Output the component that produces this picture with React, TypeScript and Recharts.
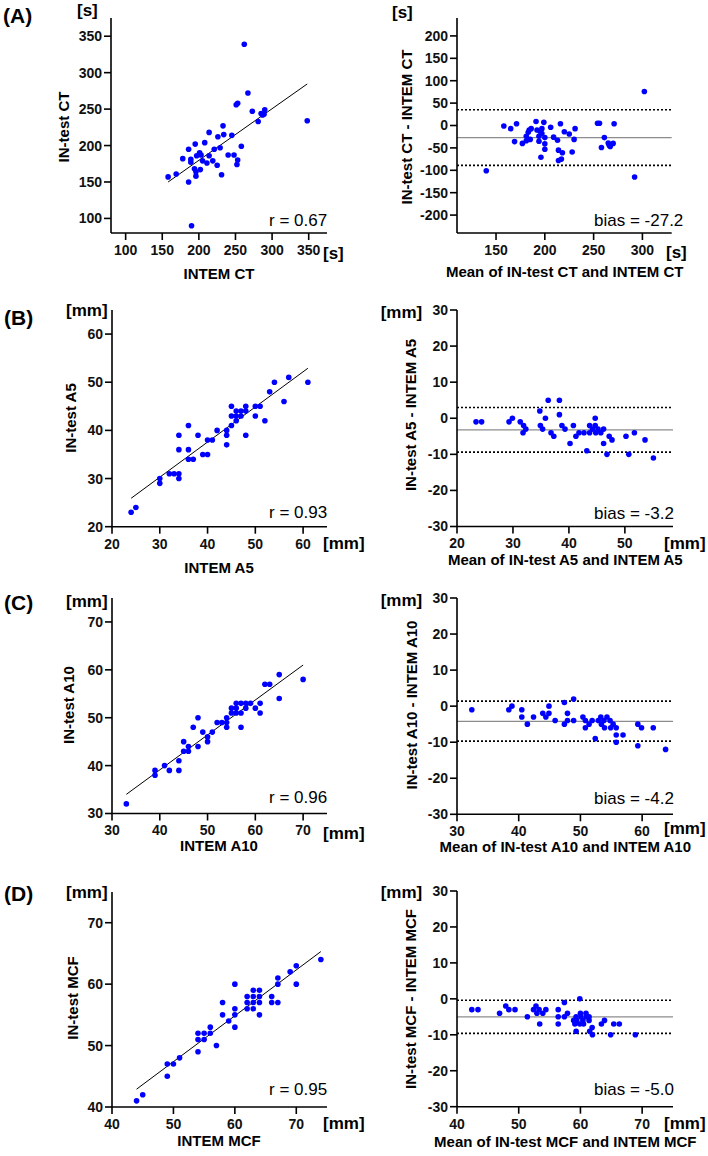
import React from 'react';
import { ScatterChart, Scatter, XAxis, YAxis, ReferenceLine } from 'recharts';

// (A) CT [s]
const ctIntem = [158, 169, 178, 186, 186, 189, 189, 190, 195, 194, 196, 196, 197, 201, 203, 205, 202, 208, 211, 214, 214, 219, 221, 225, 226, 229, 231, 233, 234, 245, 240, 248, 252, 253, 251, 253, 258, 262, 267, 273, 281, 285, 287, 290, 289, 348];
const ctIn = [157, 161, 182, 195, 150, 181, 177, 90, 202, 168, 164, 158, 186, 190, 187, 179, 167, 204, 176, 218, 186, 179, 195, 173, 212, 197, 160, 227, 215, 214, 187, 187, 174, 180, 256, 258, 199, 339, 272, 247, 233, 244, 242, 249, 243, 234];
const ctMean = [140, 158, 165, 169, 171, 177, 181, 181, 183, 184, 186, 185, 191, 192, 194, 194, 195, 196, 197, 197, 199, 200, 200, 200, 206, 209, 213, 214, 214, 216, 217, 218, 220, 225, 228, 230, 231, 254, 256, 258, 261, 265, 266, 267, 270, 271, 292, 302];
const ctDiff = [-101, -1, -7, -36, 4, -40, -34, -24, -15, -10, -7, -31, 9, -10, -24, -35, -13, -71, -18, -7, 7, -27, -41, -53, -4, -26, -33, -55, -78, 4, -75, -61, -14, -19, -59, -31, -7, 5, 5, -49, -27, -39, -44, -47, -40, 4, -115, 76];
const ctFit = [[158, 150], [348, 284.5]];
const ctLimits = [-27.2, 35, -89];

// (B) A5 [mm]
const a5Intem = [24, 25, 30, 30, 32, 33, 34, 34, 34, 34, 36, 36, 36, 37, 38, 39, 40, 40, 41, 42, 44, 44, 44, 45, 45, 45, 46, 46, 46, 47, 47, 48, 48, 48, 50, 50, 51, 52, 53, 54, 56, 57, 61];
const a5In = [23, 24, 30, 29, 31, 31, 31, 30, 36, 39, 34, 36, 41, 34, 39, 35, 35, 38, 38, 40, 40, 39, 37, 45, 43, 41, 42, 44, 43, 44, 43, 45, 44, 39, 45, 43, 45, 42, 48, 50, 46, 51, 50];
const a5Mean = [23.4, 24.4, 29.3, 29.9, 31.3, 31.9, 31.8, 32.3, 34.8, 34.9, 35.3, 35.8, 36.3, 36.8, 37.3, 38.3, 38.3, 38.75, 39.3, 40.2, 40.8, 41.25, 41.8, 42.7, 43.2, 43.7, 43.7, 44.2, 44.7, 44.7, 44.8, 45.2, 45.7, 46.2, 46.2, 46.8, 47.2, 47.7, 50.2, 50.7, 51.7, 53.6, 55.1];
const a5Diff = [-1, -1, -1, 0, -1, -2, -4, -3, 2, -2, -3, 0, 5, -4, -5, 5, 1, -2, -3, -7, -2, -5, -4, -4, -9, -2, -4, -3, 0, -2, -4, -3, -4, -3, -7, -10, -5, -6, -5, -10, -4, -6, -11];
const a5Fit = [[24, 25.9], [61, 52.9]];
const a5Limits = [-3.2, 3.0, -9.4];

// (C) A10 [mm]
const a10Intem = [33, 39, 39, 41, 42, 44, 44, 45, 45, 46, 46, 47, 48, 48, 49, 50, 50, 51, 52, 53, 54, 54, 54, 55, 55, 56, 56, 56, 57, 57, 57, 58, 58, 59, 60, 61, 61, 62, 63, 65, 65, 70];
const a10In = [32, 39, 38, 40, 39, 41, 39, 45, 43, 44, 43, 48, 50, 44, 47, 46, 45, 47, 49, 49, 50, 49, 48, 52, 51, 53, 52, 51, 53, 51, 48, 53, 52, 53, 52, 53, 51, 57, 57, 59, 54, 58];
const a10Mean = [32.4, 38.4, 38.9, 40.5, 40.5, 41.4, 42.4, 43.9, 44.4, 44.9, 44.9, 45.9, 47.4, 47.4, 47.9, 47.9, 48.9, 48.9, 50.4, 50.8, 50.8, 51.4, 51.9, 52.4, 52.9, 53.3, 53.4, 53.8, 53.9, 54.3, 54.8, 54.9, 55.3, 55.8, 55.8, 55.8, 56.9, 59.3, 59.3, 59.9, 61.8, 63.8];
const a10Diff = [-1, -1, 0, -1, -3, -5, -3, -2, -3, 0, -2, -4, 1, -5, -2, -4, 2, -4, -3, -6, -4, -5, -4, -9, -4, -3, -5, -4, -6, -3, -4, -6, -5, -6, -8, -10, -8, -5, -11, -6, -6, -12];
const a10Fit = [[33, 34], [70, 61]];
const a10Limits = [-4.2, 1.4, -9.7];

// (D) MCF [mm]
const mcfIntem = [44, 45, 49, 49, 50, 51, 54, 54, 54, 55, 55, 56, 56, 57, 58, 58, 59, 60, 60, 60, 60, 62, 62, 62, 63, 63, 63, 63, 64, 64, 64, 64, 66, 66, 67, 67, 67, 69, 70, 70, 74];
const mcfIn = [41, 42, 47, 45, 47, 48, 52, 51, 49, 52, 51, 53, 52, 50, 57, 55, 54, 60, 56, 55, 53, 58, 57, 56, 59, 58, 57, 56, 59, 58, 57, 55, 58, 57, 61, 60, 57, 62, 63, 60, 64];
const mcfMean = [42.4, 43.4, 46.9, 47.9, 48.4, 49.4, 51.4, 52.4, 52.8, 52.95, 53.3, 53.4, 53.9, 54.4, 56.4, 56.4, 56.4, 57.4, 57.4, 57.9, 58.9, 59.1, 59.3, 59.3, 59.4, 59.9, 60, 59.9, 60.1, 60.4, 60.5, 60.9, 61, 61.4, 61.4, 61.5, 61.9, 61.95, 63.4, 63.9, 64.9, 65.4, 66.3, 68.9];
const mcfDiff = [-3, -3, -4, -2, -3, -3, -5, -3, -2, -4, -3, -7, -4, -3, -3, -5, -7, -1, -5, -4, -6, -7, -9, -5, -6, 0, -4, -7, -5, -6, -7, -4, -5, -6, -5, -9, -8, -10, -7, -6, -10, -7, -7, -10];
const mcfFit = [[44, 42.9], [74, 65.3]];
const mcfLimits = [-5.0, -0.4, -9.6];

const FONT = '"Liberation Sans", Arial, sans-serif';
const ML = 60, MT = 10, MR = 12, MB = 40;

const pairs = (xs: number[], ys: number[]) => xs.map((x, i) => ({ x, y: ys[i] }));

interface PanelProps {
    left: number; top: number; right: number; bottom: number;
    xDomain: [number, number]; yDomain: [number, number];
    xTicks: number[]; yTicks: number[];
    data: { x: number; y: number }[];
    fit?: number[][];
    limits?: number[];
}

function Panel({ left, top, right, bottom, xDomain, yDomain, xTicks, yTicks, data, fit, limits }: PanelProps) {
    const w = right - left;
    const h = bottom - top;
    const tick = { fill: '#111', fontSize: 14, fontWeight: 700, fontFamily: FONT };
    const line = { stroke: '#000', strokeWidth: 1.6 };
    return (
        <div style={{ position: 'absolute', left: left - ML, top: top - MT }}>
            <ScatterChart width={w + ML + MR} height={h + MT + MB} margin={{ top: MT, right: MR, bottom: 0, left: 0 }}>
                <XAxis type="number" dataKey="x" domain={xDomain} ticks={xTicks} allowDataOverflow interval={0}
                    height={MB} tickSize={7} tickMargin={5} tick={tick} axisLine={line} tickLine={line} />
                <YAxis type="number" dataKey="y" domain={yDomain} ticks={yTicks} allowDataOverflow interval={0}
                    width={ML} tickSize={7} tickMargin={2} tick={tick} axisLine={line} tickLine={line} />
                {limits && <ReferenceLine y={limits[0]} stroke="#8c8c8c" strokeWidth={1.2} />}
                {limits && <ReferenceLine y={limits[1]} stroke="#000" strokeWidth={1.6} strokeDasharray="2 2" />}
                {limits && <ReferenceLine y={limits[2]} stroke="#000" strokeWidth={1.6} strokeDasharray="2 2" />}
                {fit && (
                    <ReferenceLine segment={[{ x: fit[0][0], y: fit[0][1] }, { x: fit[1][0], y: fit[1][1] }]}
                        stroke="#000" strokeWidth={1} />
                )}
                <Scatter data={data} isAnimationActive={false}
                    shape={(p: any) => <circle cx={p.cx} cy={p.cy} r={2.8} fill="#0000ff" />} />
            </ScatterChart>
        </div>
    );
}

function Txt({ x, y, children, size = 15, weight = 700, center = false }: any) {
    return (
        <div style={{
            position: 'absolute', left: x, top: y, fontSize: size, fontWeight: weight, lineHeight: 1,
            whiteSpace: 'nowrap', color: '#000',
            transform: center ? 'translate(-50%,-50%)' : 'translateY(-50%)',
        }}>{children}</div>
    );
}

function VTxt({ x, y, children }: any) {
    return (
        <div style={{
            position: 'absolute', left: x, top: y, fontSize: 15, fontWeight: 700, lineHeight: 1,
            whiteSpace: 'nowrap', color: '#000', transform: 'translate(-50%,-50%) rotate(-90deg)',
        }}>{children}</div>
    );
}

const t10 = (a: number, b: number) => {
    const r: number[] = [];
    for (let v = a; v <= b; v += 10) r.push(v);
    return r;
};

export default function App() {
    return (
        <div style={{ position: 'absolute', left: 0, top: 0, width: 708, height: 1156, background: '#fff', fontFamily: FONT }}>
            {/* row A */}
            <Panel left={111} top={18} right={327} bottom={233} xDomain={[80, 375]} yDomain={[80, 375]}
                xTicks={[100, 150, 200, 250, 300, 350]} yTicks={[100, 150, 200, 250, 300, 350]}
                data={pairs(ctIntem, ctIn)} fit={ctFit} />
            <Panel left={457.3} top={18} right={672} bottom={233} xDomain={[110, 330]} yDomain={[-240, 240]}
                xTicks={[150, 200, 250, 300]} yTicks={[-200, -150, -100, -50, 0, 50, 100, 150, 200]}
                data={pairs(ctMean, ctDiff)} limits={ctLimits} />

            {/* row B */}
            <Panel left={111.7} top={310} right={326.7} bottom={526.7} xDomain={[20, 65]} yDomain={[20, 65]}
                xTicks={t10(20, 60)} yTicks={t10(20, 60)} data={pairs(a5Intem, a5In)} fit={a5Fit} />
            <Panel left={457.3} top={310} right={673.3} bottom={526.5} xDomain={[20, 58.6]} yDomain={[-30, 30]}
                xTicks={t10(20, 50)} yTicks={t10(-30, 30)} data={pairs(a5Mean, a5Diff)} limits={a5Limits} />

            {/* row C */}
            <Panel left={111.7} top={598} right={326.7} bottom={813.5} xDomain={[30, 75]} yDomain={[30, 75]}
                xTicks={t10(30, 70)} yTicks={t10(30, 70)} data={pairs(a10Intem, a10In)} fit={a10Fit} />
            <Panel left={457.3} top={597.7} right={673.3} bottom={814} xDomain={[30, 65]} yDomain={[-30, 30]}
                xTicks={t10(30, 60)} yTicks={t10(-30, 30)} data={pairs(a10Mean, a10Diff)} limits={a10Limits} />

            {/* row D */}
            <Panel left={111.7} top={891.7} right={326.7} bottom={1106.7} xDomain={[40, 75]} yDomain={[40, 75]}
                xTicks={t10(40, 70)} yTicks={t10(40, 70)} data={pairs(mcfIntem, mcfIn)} fit={mcfFit} />
            <Panel left={457.3} top={891} right={673.3} bottom={1106.7} xDomain={[40, 75]} yDomain={[-30, 30]}
                xTicks={t10(40, 70)} yTicks={t10(-30, 30)} data={pairs(mcfMean, mcfDiff)} limits={mcfLimits} />

            {/* panel letters */}
            <Txt x={3} y={15} size={21}>(A)</Txt>
            <Txt x={4} y={316.7} size={21}>(B)</Txt>
            <Txt x={4} y={601.7} size={21}>(C)</Txt>
            <Txt x={4} y={893.3} size={21}>(D)</Txt>

            {/* y titles */}
            <VTxt x={63} y={127}>IN-test CT</VTxt>
            <VTxt x={405.7} y={126.7}>IN-test CT - INTEM CT</VTxt>
            <VTxt x={70} y={418.3}>IN-test A5</VTxt>
            <VTxt x={409.7} y={415}>IN-test A5 - INTEM A5</VTxt>
            <VTxt x={68} y={705}>IN-test A10</VTxt>
            <VTxt x={410.7} y={705}>IN-test A10 - INTEM A10</VTxt>
            <VTxt x={71.7} y={997.5}>IN-test MCF</VTxt>
            <VTxt x={409.7} y={999}>IN-test MCF - INTEM MCF</VTxt>

            {/* x titles */}
            <Txt x={219} y={273} center>INTEM CT</Txt>
            <Txt x={564.7} y={271} center>Mean of IN-test CT and INTEM CT</Txt>
            <Txt x={219} y={566.7} center>INTEM A5</Txt>
            <Txt x={565.3} y={559} center>Mean of IN-test A5 and INTEM A5</Txt>
            <Txt x={219} y={845} center>INTEM A10</Txt>
            <Txt x={565.3} y={846} center>Mean of IN-test A10 and INTEM A10</Txt>
            <Txt x={219} y={1140} center>INTEM MCF</Txt>
            <Txt x={565.3} y={1141} center>Mean of IN-test MCF and INTEM MCF</Txt>

            {/* units */}
            <Txt x={77} y={10} size={17}>[s]</Txt>
            <Txt x={323} y={253} size={17}>[s]</Txt>
            <Txt x={392} y={11.7} size={17}>[s]</Txt>
            <Txt x={666} y={251.7} size={17}>[s]</Txt>
            <Txt x={66} y={310} size={17}>[mm]</Txt>
            <Txt x={323} y={543.3} size={17}>[mm]</Txt>
            <Txt x={380.7} y={311.7} size={17}>[mm]</Txt>
            <Txt x={664} y={543} size={17}>[mm]</Txt>
            <Txt x={66} y={600.7} size={17}>[mm]</Txt>
            <Txt x={323} y={833.3} size={17}>[mm]</Txt>
            <Txt x={380.7} y={600} size={17}>[mm]</Txt>
            <Txt x={664} y={827.5} size={17}>[mm]</Txt>
            <Txt x={66} y={891.7} size={17}>[mm]</Txt>
            <Txt x={323} y={1123.3} size={17}>[mm]</Txt>
            <Txt x={380.7} y={891.7} size={17}>[mm]</Txt>
            <Txt x={664} y={1123.3} size={17}>[mm]</Txt>

            {/* statistics */}
            <Txt x={269} y={220} size={17} weight={400}>r = 0.67</Txt>
            <Txt x={594} y={220} size={17} weight={400}>bias = -27.2</Txt>
            <Txt x={269} y={511.7} size={17} weight={400}>r = 0.93</Txt>
            <Txt x={594} y={512.7} size={17} weight={400}>bias = -3.2</Txt>
            <Txt x={269} y={796.7} size={17} weight={400}>r = 0.96</Txt>
            <Txt x={594} y={797.7} size={17} weight={400}>bias = -4.2</Txt>
            <Txt x={269} y={1089.3} size={17} weight={400}>r = 0.95</Txt>
            <Txt x={594} y={1089.3} size={17} weight={400}>bias = -5.0</Txt>
        </div>
    );
}
